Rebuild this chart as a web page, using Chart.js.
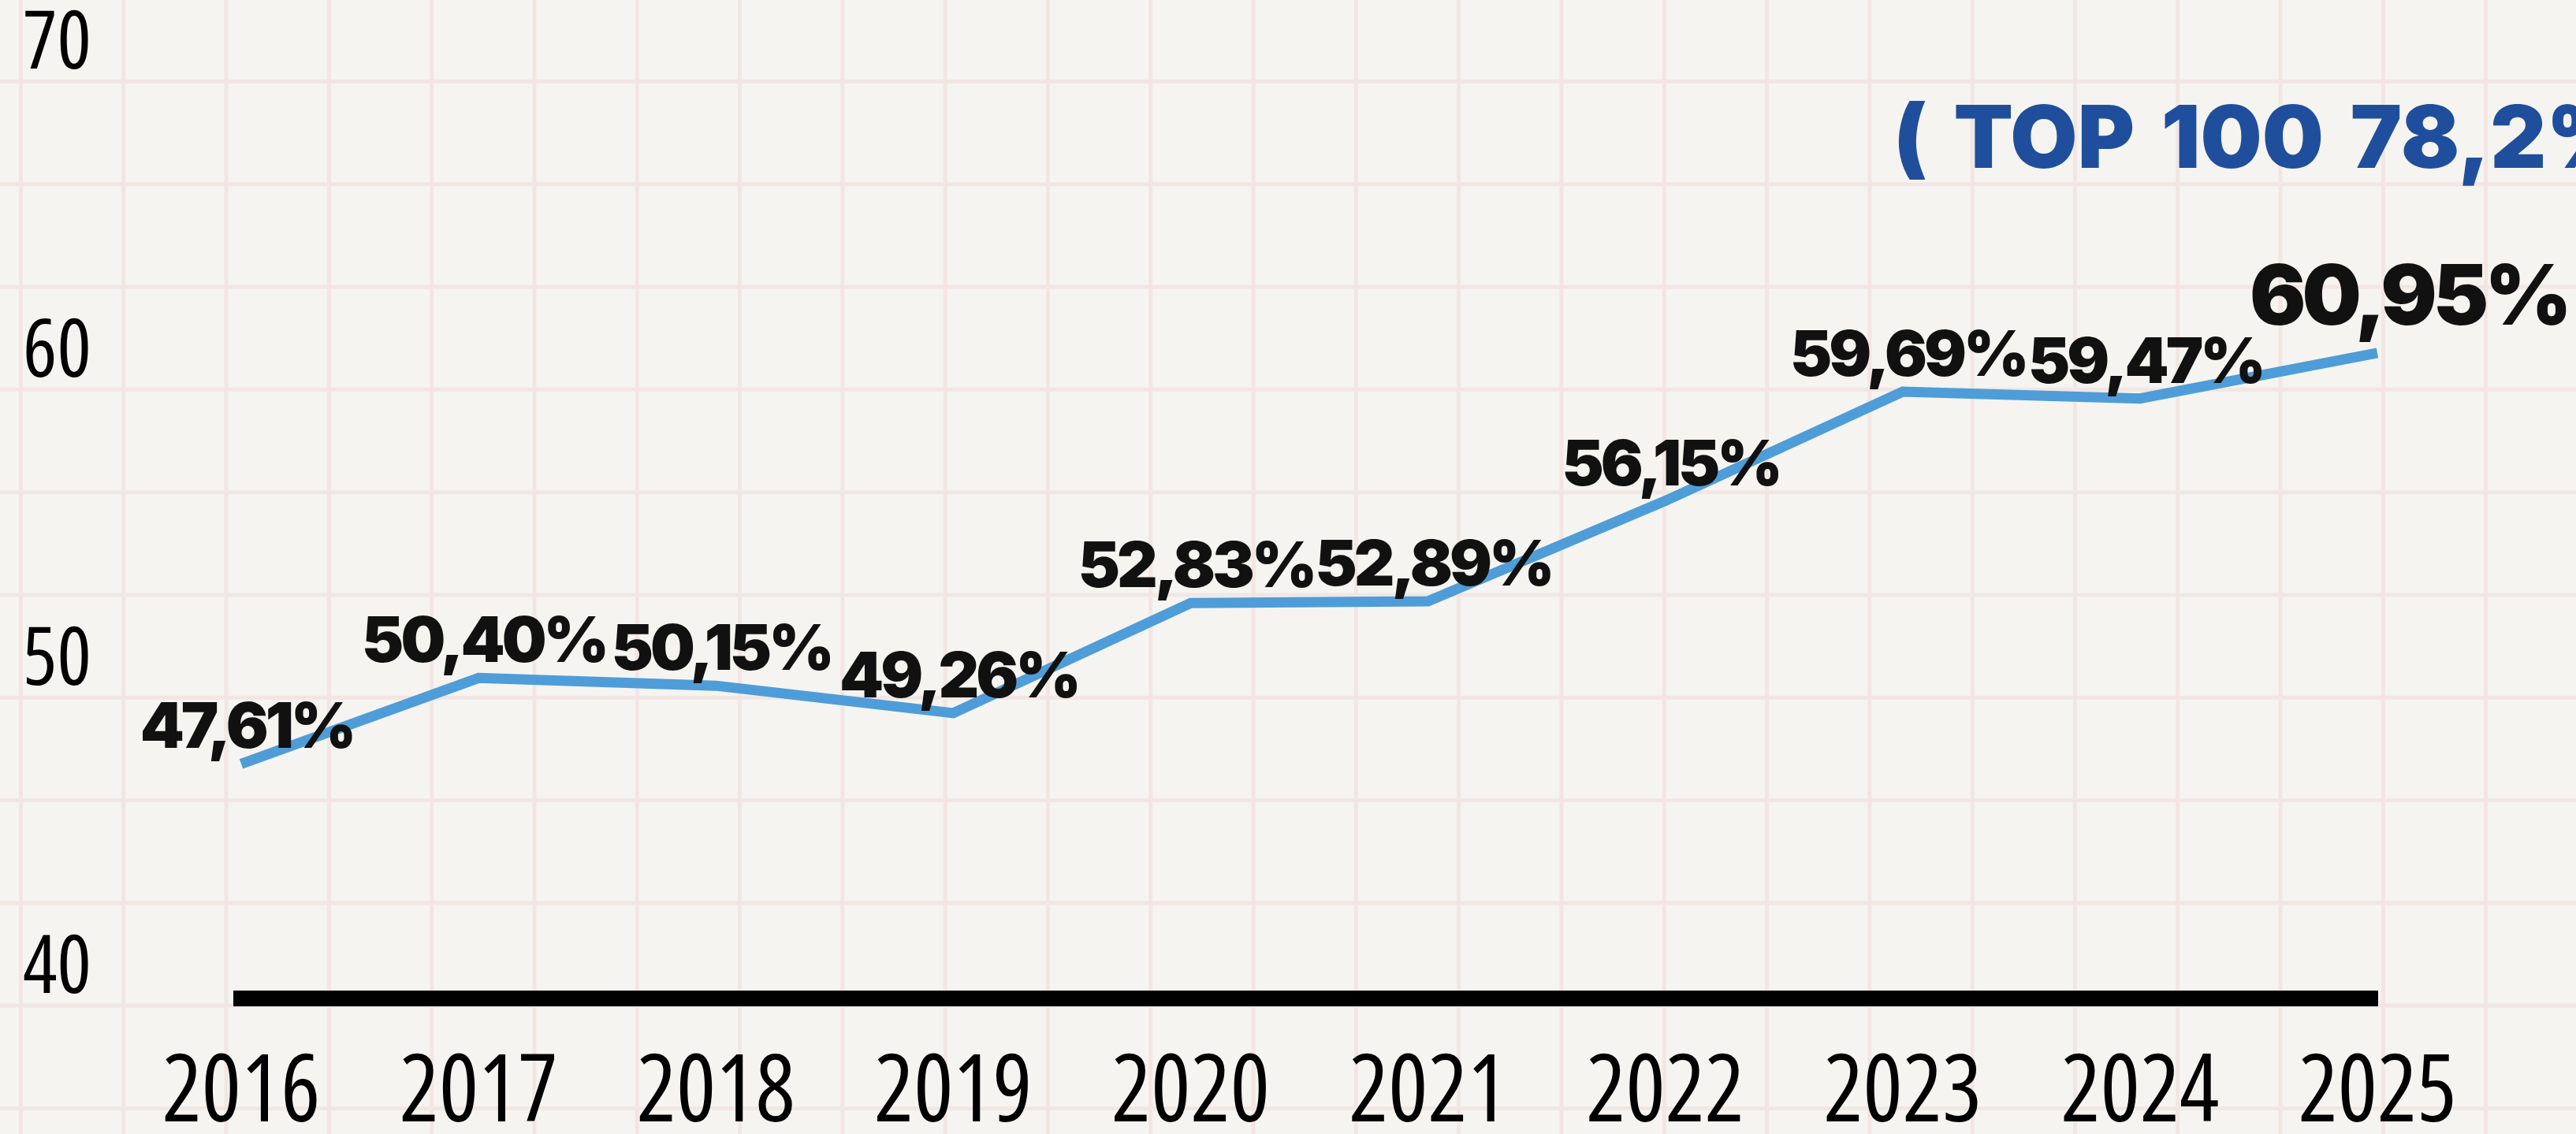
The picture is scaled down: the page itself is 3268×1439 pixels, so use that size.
<!DOCTYPE html>
<html>
<head>
<meta charset="utf-8">
<script src="https://cdn.jsdelivr.net/npm/chart.js@4.4.1/dist/chart.umd.min.js"></script>
<style>
  html, body { margin: 0; padding: 0; }
  body {
    width: 3268px; height: 1439px; overflow: hidden;
    background-color: #f5f4f0;
    background-image:
      linear-gradient(to right, #f2e6e3 5px, transparent 5px),
      linear-gradient(to bottom, #f2e6e3 5px, transparent 5px);
    background-size: 130.3px 130.3px;
    background-position: 24px 101px;
  }
  canvas { display: block; }
</style>
</head>
<body>
<canvas id="chart" width="3268" height="1439"></canvas>
<script>
const years = ['2016', '2017', '2018', '2019', '2020', '2021', '2022', '2023', '2024', '2025'];
const shares = [47.61, 50.40, 50.15, 49.26, 52.83, 52.89, 56.15, 59.69, 59.47, 60.95];
const yTicks = [40, 50, 60, 70];
const note = '( TOP 100 78,2% )';

// no web fonts: look for the narrowest face for the axes and a black weight for the labels
const probe = document.createElement('canvas').getContext('2d');
function textWidth(font, text) { probe.font = font; return probe.measureText(text).width; }
function installed(fam) {
  return ['monospace', 'serif'].some(b =>
    textWidth(`100px '${fam}', ${b}`, 'abcmwi2016') !== textWidth(`100px ${b}`, 'abcmwi2016'));
}
let narrow = 'DejaVu Sans', narrowW = Infinity;
['Liberation Sans Narrow', 'Roboto', 'Open Sans', 'DejaVu Sans'].forEach(f => {
  if (!installed(f)) return;
  const w = textWidth(`condensed 100px '${f}'`, '2016');
  if (w < narrowW - 1) { narrowW = w; narrow = f; }
});
let heavy = 'Lato', heavyWeight = 700;
for (const f of ['Lato', 'Inter', 'Roboto', 'Open Sans']) {
  if (installed(f) && textWidth(`900 100px '${f}'`, '50,40%') > textWidth(`700 100px '${f}'`, '50,40%') + 1) {
    heavy = f; heavyWeight = 900; break;
  }
}

const fmt = v => v.toFixed(2).replace('.', ',') + '%';

// value labels over each point, the last one a bit bigger
const valueLabels = {
  id: 'valueLabels',
  afterDatasetsDraw(chart) {
    const ctx = chart.ctx;
    const pts = chart.getDatasetMeta(0).data;
    ctx.save();
    ctx.fillStyle = '#111';
    ctx.textAlign = 'center';
    ctx.textBaseline = 'alphabetic';
    pts.forEach((p, i) => {
      const last = i === pts.length - 1;
      ctx.font = `${heavyWeight} ${last ? 106 : 80}px '${heavy}'`;
      ctx.letterSpacing = last ? '-5px' : '-4px';
      ctx.fillText(fmt(shares[i]), p.x + (last ? 40 : 7), p.y - (last ? 36 : 20));
    });
    // blue note, runs off the right edge like the original
    ctx.font = `${heavyWeight} 110px '${heavy}'`;
    ctx.letterSpacing = '0px';
    ctx.wordSpacing = '12px';
    ctx.fillStyle = '#1f4f9c';
    ctx.textAlign = 'left';
    ctx.fillText(note, 2402, 213);
    ctx.restore();
  }
};

new Chart(document.getElementById('chart'), {
  type: 'line',
  data: {
    labels: years,
    datasets: [{
      data: shares,
      borderColor: '#4e9dd8',
      borderWidth: 13,
      borderJoinStyle: 'miter',
      pointRadius: 0,
      tension: 0
    }]
  },
  options: {
    responsive: false,
    animation: false,
    layout: { padding: { left: 29, right: 252, top: 94, bottom: 0 } },
    plugins: { legend: { display: false }, tooltip: { enabled: false } },
    scales: {
      x: {
        offset: false,
        grid: { display: false, drawTicks: false },
        border: { display: true, color: '#000', width: 20 },
        ticks: {
          color: '#000',
          // weight slot carries the font-stretch keyword into the canvas font string
          font: { family: `'${narrow}'`, size: 118, weight: 'condensed' },
          padding: 52,
          maxRotation: 0,
          autoSkip: false
        },
        afterFit: s => { s.height = 172; }
      },
      y: {
        min: 40,
        max: 70,
        afterBuildTicks: s => { s.ticks = yTicks.map(v => ({ value: v })); },
        grid: { display: false, drawTicks: false },
        border: { display: false },
        ticks: {
          color: '#000',
          font: { family: `'${narrow}'`, size: 102, weight: 'condensed' },
          crossAlign: 'far',
          labelOffset: -36
        },
        afterFit: s => { s.width = 277; }
      }
    }
  },
  plugins: [valueLabels]
});
</script>
</body>
</html>
